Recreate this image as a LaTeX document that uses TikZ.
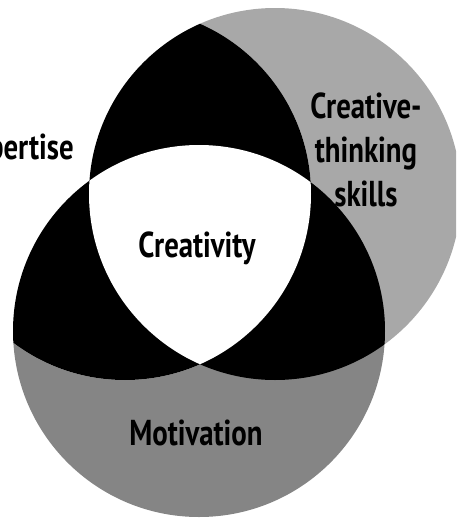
\documentclass[tikz,border=0pt]{standalone}
\usepackage{fontspec}
\usepackage{xcolor}
\newfontfamily\vennfont{PT Sans}[FakeStretch=0.8]
\definecolor{skillgray}{gray}{0.66}
\definecolor{motivgray}{gray}{0.52}

\begin{document}
\begin{tikzpicture}[
    x = 1pt, y = -1pt,
    every node/.style = {
        font=\vennfont\bfseries\fontsize{36}{44}\selectfont, inner sep=0pt
    },
    ring/.style = {radius=186pt}
  ]
    \useasboundingbox (0,0) rectangle (456,520);
    \clip (0,0) rectangle (456,520);

    \coordinate (exp) at (125,194);  % 左圆心
    \coordinate (skl) at (275,194);  % 右圆心
    \coordinate (mot) at (199,331);  % 下圆心

    \fill[skillgray] (skl) circle[ring];  % 只在右圆
    \fill[motivgray] (mot) circle[ring];  % 只在下圆
    \fill[white] (exp) circle[ring];  % 只在左圆

    % 两两相交部分
    \begin{scope}
        \clip (skl) circle[ring];
        \fill[black] (mot) circle[ring];
    \end{scope}
    \begin{scope}
        \clip (exp) circle[ring];
        \fill[black] (skl) circle[ring];
        \fill[black] (mot) circle[ring];
    \end{scope}
    % 三者共有部分
    \begin{scope}
        \clip (exp) circle[ring];
        \clip (skl) circle[ring];
        \fill[white] (mot) circle[ring];
    \end{scope}

    \node[anchor=base] (creativity) at (197,257) {Creativity};  % 中心
    \node[anchor=base east] (expertise) at (74,159) {pertise};  % 左边被裁掉
    \node[anchor=north, align=center] (skills) at (366,93) {Creative-\\thinking\\skills};
    \node[anchor=base] (motivation) at (196,445) {Motivation};
\end{tikzpicture}
\end{document}
